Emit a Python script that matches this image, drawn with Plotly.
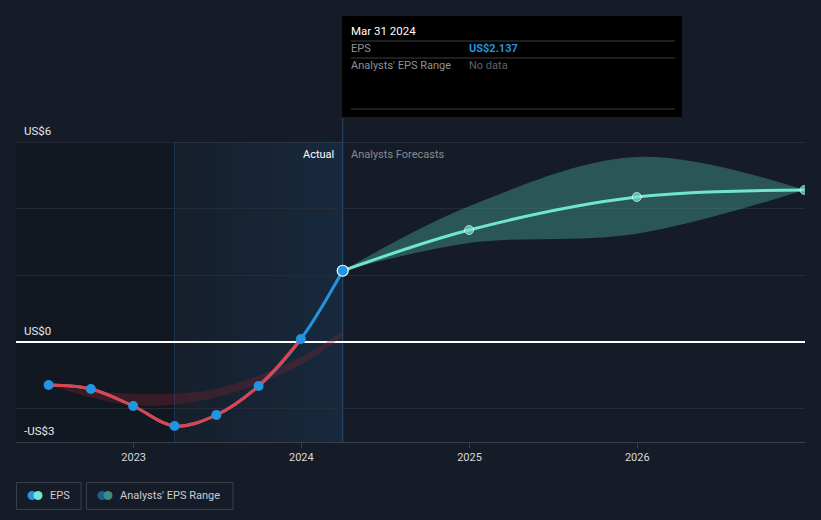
import datetime as _dt
import plotly.graph_objects as go

# ---------------- data ----------------
actual_dates = ["2022-06-30", "2022-09-30", "2022-12-31", "2023-03-31",
                "2023-06-30", "2023-09-30", "2023-12-31", "2024-03-31"]
actual_eps = [-1.29, -1.41, -1.92, -2.52, -2.19, -1.32, 0.09, 2.137]

forecast_dates = ["2024-03-31", "2024-12-31", "2025-12-31", "2026-12-31"]
forecast_eps = [2.137, 3.36, 4.35, 4.56]
forecast_high = [2.137, 4.07, 5.55, 4.56]
forecast_low = [2.137, 2.97, 3.25, 4.56]

past_range_dates = ["2022-06-30", "2022-12-31", "2023-06-30", "2023-12-31", "2024-03-31"]
past_range_high = [-1.29, -1.55, -1.40, -0.45, 0.32]
past_range_low = [-1.29, -1.90, -1.66, -0.68, 0.18]

y_tick_vals = [-3, -2, 0, 2, 4, 6]
y_tick_text = ["-US$3", "", "US$0", "", "", "US$6"]
x_tick_vals = ["2023-01-01", "2024-01-01", "2025-01-01", "2026-01-01"]
x_tick_text = ["2023", "2024", "2025", "2026"]

x_range = ["2022-04-20", "2027-01-01"]
y_range = [-3, 6]
actual_start = "2023-03-31"
today = "2024-03-31"

# ---------------- layout geometry ----------------
W, H = 821, 520
ML, MR, MT, MB = 16, 16, 142, 78
PW, PH = W - ML - MR, H - MT - MB


def px(x):
    return (x - ML) / PW


def py(y):
    return (H - MB - y) / PH


BG = "#161c27"
RED = "#e2434a"
BLUE = "#2394df"
TEAL = "#6fe6d0"
FONT = "Roboto"

fig = go.Figure()

# past analyst range band (red)
fig.add_trace(go.Scatter(x=past_range_dates, y=past_range_high, mode="lines",
                         line=dict(width=0, shape="spline", color="rgba(0,0,0,0)"),
                         hoverinfo="skip"))
fig.add_trace(go.Scatter(x=past_range_dates, y=past_range_low, mode="lines",
                         line=dict(width=0, shape="spline", color="rgba(0,0,0,0)"),
                         fill="tonexty", fillcolor="rgba(130,35,45,0.33)",
                         hoverinfo="skip"))

# forecast range band
fig.add_trace(go.Scatter(x=forecast_dates, y=forecast_high, mode="lines",
                         line=dict(width=0, shape="spline", color="rgba(0,0,0,0)"),
                         hoverinfo="skip"))
fig.add_trace(go.Scatter(x=forecast_dates, y=forecast_low, mode="lines",
                         line=dict(width=0, shape="spline", color="rgba(0,0,0,0)"),
                         fill="tonexty", fillcolor="rgba(66,158,148,0.45)",
                         hoverinfo="skip"))

# actual EPS: full line blue, negative part overdrawn red
fig.add_trace(go.Scatter(x=actual_dates, y=actual_eps, mode="lines",
                         line=dict(color=BLUE, width=3, shape="spline"),
                         hoverinfo="skip"))
fig.add_trace(go.Scatter(x=actual_dates[:7], y=actual_eps[:7], mode="lines",
                         line=dict(color=RED, width=3, shape="spline"),
                         hoverinfo="skip"))

# forecast line
fig.add_trace(go.Scatter(x=forecast_dates, y=forecast_eps, mode="lines+markers",
                         line=dict(color=TEAL, width=3, shape="spline"),
                         marker=dict(size=[0, 9, 9, 9], color=TEAL),
                         hoverinfo="skip"))

# actual markers
fig.add_trace(go.Scatter(x=actual_dates[:-1], y=actual_eps[:-1], mode="markers",
                         marker=dict(size=10, color=BLUE), hoverinfo="skip"))
fig.add_trace(go.Scatter(x=actual_dates[-1:], y=actual_eps[-1:], mode="markers",
                         marker=dict(size=11, color=BLUE, line=dict(color="white", width=1.2)),
                         hoverinfo="skip"))

shapes = []
# dark region before "actual"
shapes.append(dict(type="rect", xref="x", yref="y", x0=x_range[0], x1=actual_start,
                   y0=y_range[0], y1=y_range[1], fillcolor="rgba(0,0,0,0.14)",
                   line=dict(width=0), layer="below"))
# gradient "actual" region
d0 = _dt.date.fromisoformat(actual_start)
d1 = _dt.date.fromisoformat(today)
n = 12
span = (d1 - d0).days
for i in range(n):
    a = d0 + _dt.timedelta(days=span * i / n)
    b = d0 + _dt.timedelta(days=span * (i + 1) / n)
    alpha = 0.04 + 0.13 * (i + 0.5) / n
    shapes.append(dict(type="rect", xref="x", yref="y", x0=a.isoformat(), x1=b.isoformat(),
                       y0=y_range[0], y1=y_range[1], fillcolor=f"rgba(35,110,175,{alpha:.3f})",
                       line=dict(width=0), layer="below"))
# vertical lines
shapes.append(dict(type="line", xref="x", yref="y", x0=actual_start, x1=actual_start,
                   y0=y_range[0], y1=y_range[1], line=dict(color="rgba(40,80,120,0.5)", width=1),
                   layer="below"))
shapes.append(dict(type="line", xref="x", yref="paper", x0=today, x1=today,
                   y0=0, y1=py(118), line=dict(color="rgba(50,95,140,0.7)", width=1),
                   layer="below"))
# top gridline lighter
shapes.append(dict(type="line", xref="paper", yref="y", x0=0, x1=1, y0=6, y1=6,
                   line=dict(color="#3a404a", width=1), layer="below"))

# tooltip box
shapes.append(dict(type="rect", xref="paper", yref="paper", x0=px(342), x1=px(682),
                   y0=py(117), y1=py(16), fillcolor="#000000", line=dict(width=0)))
for yy in (41, 58, 109):
    shapes.append(dict(type="line", xref="paper", yref="paper", x0=px(351), x1=px(675),
                       y0=py(yy), y1=py(yy), line=dict(color="#3a3d42", width=1)))

# legend boxes
shapes.append(dict(type="rect", xref="paper", yref="paper", x0=px(16.5), x1=px(81),
                   y0=py(509.5), y1=py(482.5), line=dict(color="#3a404b", width=1),
                   fillcolor="rgba(0,0,0,0)"))
shapes.append(dict(type="rect", xref="paper", yref="paper", x0=px(86.5), x1=px(233),
                   y0=py(509.5), y1=py(482.5), line=dict(color="#3a404b", width=1),
                   fillcolor="rgba(0,0,0,0)"))
for cx, col in ((32, BLUE), (38, TEAL), (102, "#1f5c8c"), (108, "#3e8a84")):
    r = 4.5
    shapes.append(dict(type="circle", xref="paper", yref="paper", x0=px(cx - r), x1=px(cx + r),
                       y0=py(495.5 + r), y1=py(495.5 - r), fillcolor=col, line=dict(width=0)))

annotations = []


def txt(text, x, y, color, size=11, anchor="left", bold=False):
    annotations.append(dict(text=f"<b>{text}</b>" if bold else text, xref="paper", yref="paper",
                            x=px(x), y=py(y), xanchor=anchor, yanchor="middle",
                            showarrow=False, font=dict(family=FONT, size=size, color=color)))


txt("Mar 31 2024", 349, 31, "#ffffff", 11.5)
txt("EPS", 349, 49, "#8d929a", 11)
txt("US$2.137", 467, 49, "#2394df", 11, bold=True)
txt("Analysts' EPS Range", 349, 66, "#8d929a", 11)
txt("No data", 467, 66, "#5f646b", 11)

txt("Actual", 336, 154, "#ffffff", 11, anchor="right")
txt("Analysts Forecasts", 349, 154, "#868b93", 11)

txt("EPS", 48, 495.5, "#c9ccd1", 11)
txt("Analysts' EPS Range", 118, 495.5, "#c9ccd1", 11)

# y tick labels above their gridlines, inside the plot
for v, t in zip(y_tick_vals, y_tick_text):
    if t:
        annotations.append(dict(text=t, xref="paper", yref="y", x=px(22), y=v,
                                xanchor="left", yanchor="bottom", yshift=2, showarrow=False,
                                font=dict(family=FONT, size=11.5, color="#e6e8eb")))

fig.update_layout(
    width=W, height=H,
    margin=dict(l=ML, r=MR, t=MT, b=MB),
    paper_bgcolor=BG, plot_bgcolor=BG,
    showlegend=False, hovermode=False,
    shapes=shapes, annotations=annotations,
    font=dict(family=FONT, size=11, color="#d5d8dc"),
    xaxis=dict(type="date", range=x_range, showgrid=False, zeroline=False,
               showline=True, linecolor="#3a404a", linewidth=1,
               tickvals=x_tick_vals, ticktext=x_tick_text,
               ticks="outside", ticklen=5, tickcolor="#3a404a",
               tickfont=dict(family=FONT, size=11, color="#d5d8dc"), fixedrange=True),
    yaxis=dict(range=y_range, tickvals=y_tick_vals, showticklabels=False,
               showgrid=True, gridcolor="#262c36", gridwidth=1,
               zeroline=True, zerolinecolor="#ffffff", zerolinewidth=1.5,
               ticks="", fixedrange=True),
)

fig.write_html("out.html", config={"displayModeBar": False},
               post_script="document.body.style.margin='0';document.body.style.background='#161c27';")
